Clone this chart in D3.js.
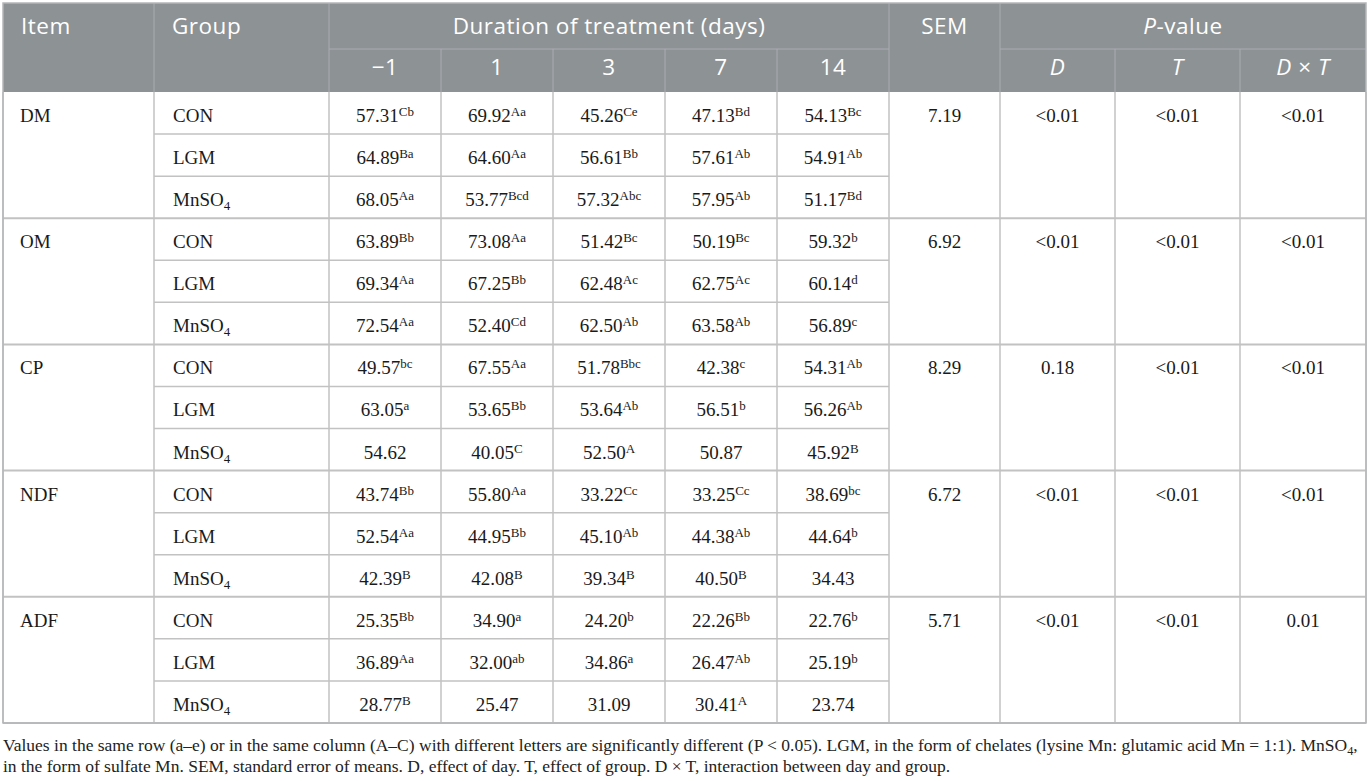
<!DOCTYPE html>
<html>
<head>
<meta charset="utf-8">
<script src="https://cdn.jsdelivr.net/npm/d3@7"></script>
<style>
  body { margin: 0; background: #fff; }
  svg { display: block; }
</style>
</head>
<body>
<svg id="tbl" width="1372" height="781"></svg>
<script>
// table content
var items = ["DM", "OM", "CP", "NDF", "ADF"]
var groups = ["CON", "LGM", "MnSO4"]
var days = ["\u22121", "1", "3", "7", "14"]

var means = [
   ["57.31", "69.92", "45.26", "47.13", "54.13"],
   ["64.89", "64.60", "56.61", "57.61", "54.91"],
   ["68.05", "53.77", "57.32", "57.95", "51.17"],
   ["63.89", "73.08", "51.42", "50.19", "59.32"],
   ["69.34", "67.25", "62.48", "62.75", "60.14"],
   ["72.54", "52.40", "62.50", "63.58", "56.89"],
   ["49.57", "67.55", "51.78", "42.38", "54.31"],
   ["63.05", "53.65", "53.64", "56.51", "56.26"],
   ["54.62", "40.05", "52.50", "50.87", "45.92"],
   ["43.74", "55.80", "33.22", "33.25", "38.69"],
   ["52.54", "44.95", "45.10", "44.38", "44.64"],
   ["42.39", "42.08", "39.34", "40.50", "34.43"],
   ["25.35", "34.90", "24.20", "22.26", "22.76"],
   ["36.89", "32.00", "34.86", "26.47", "25.19"],
   ["28.77", "25.47", "31.09", "30.41", "23.74"]
]
var letters = [
   ["Cb", "Aa", "Ce", "Bd", "Bc"],
   ["Ba", "Aa", "Bb", "Ab", "Ab"],
   ["Aa", "Bcd", "Abc", "Ab", "Bd"],
   ["Bb", "Aa", "Bc", "Bc", "b"],
   ["Aa", "Bb", "Ac", "Ac", "d"],
   ["Aa", "Cd", "Ab", "Ab", "c"],
   ["bc", "Aa", "Bbc", "c", "Ab"],
   ["a", "Bb", "Ab", "b", "Ab"],
   ["", "C", "A", "", "B"],
   ["Bb", "Aa", "Cc", "Cc", "bc"],
   ["Aa", "Bb", "Ab", "Ab", "b"],
   ["B", "B", "B", "B", ""],
   ["Bb", "a", "b", "Bb", "b"],
   ["Aa", "ab", "a", "Ab", "b"],
   ["B", "", "", "A", ""]
]
var sem = ["7.19", "6.92", "8.29", "6.72", "5.71"]
var pDay = ["<0.01", "<0.01", "0.18", "<0.01", "<0.01"]
var pGroup = ["<0.01", "<0.01", "<0.01", "<0.01", "<0.01"]
var pInter = ["<0.01", "<0.01", "<0.01", "<0.01", "0.01"]

var footnote1 = "Values in the same row (a\u2013e) or in the same column (A\u2013C) with different letters are significantly different (P < 0.05). LGM, in the form of chelates (lysine Mn: glutamic acid Mn = 1:1). MnSO"
var footnote2 = "in the form of sulfate Mn. SEM, standard error of means. D, effect of day. T, effect of group. D \u00d7 T, interaction between day and group."

// layout (window.top is read-only, hence the prefixed names)
var tLeft = 3, tRight = 1366, tTop = 3
var headMid = 49, headBottom = 92, tBottom = 723
var itemX = 3, groupX = 154, dayX0 = 329, dayX1 = 889, semX1 = 1000, pX1 = 1115, pX2 = 1240
var headFill = "#8d9295", gridColor = "#c2c2c2", headLine = "#a9adb0"
var serif = "'Liberation Serif', 'DejaVu Serif', serif"
var sans = "'Open Sans', 'Noto Sans', sans-serif"

var svg = d3.select("#tbl")

var rows = d3.range(items.length * groups.length)
var yRow = d3.scaleBand().domain(rows).range([headBottom, tBottom])
var xDay = d3.scaleBand().domain(days).range([dayX0, dayX1])

// header background
svg.append("rect")
   .attr("x", tLeft).attr("y", tTop)
   .attr("width", tRight - tLeft).attr("height", headBottom - tTop)
   .attr("fill", headFill)

// header grid
var headLines = [
   [groupX, tTop, groupX, headBottom],
   [dayX0, tTop, dayX0, headBottom],
   [dayX1, tTop, dayX1, headBottom],
   [semX1, tTop, semX1, headBottom],
   [dayX0, headMid, dayX1, headMid],
   [semX1, headMid, tRight, headMid],
   [pX1, headMid, pX1, headBottom],
   [pX2, headMid, pX2, headBottom]
]
days.slice(1).forEach(function(d) {
   headLines.push([xDay(d), headMid, xDay(d), headBottom])
})
svg.append("g").selectAll("line")
   .data(headLines)
   .join("line")
   .attr("x1", d => d[0]).attr("y1", d => d[1])
   .attr("x2", d => d[2]).attr("y2", d => d[3])
   .attr("stroke", headLine).attr("stroke-width", 1)

// header text
var head = svg.append("g")
   .attr("fill", "#fff")
   .style("font-family", sans)
   .style("font-size", "22.5px")
   .style("letter-spacing", "0.5px")
var yH1 = 34
var yH2 = 75
head.append("text").attr("x", itemX + 18).attr("y", yH1).text("Item")
head.append("text").attr("x", groupX + 18).attr("y", yH1).text("Group")
head.append("text").attr("x", (dayX0 + dayX1) / 2).attr("y", yH1)
   .attr("text-anchor", "middle").text("Duration of treatment (days)")
head.append("text").attr("x", (dayX1 + semX1) / 2).attr("y", yH1)
   .attr("text-anchor", "middle").text("SEM")
var pv = head.append("text").attr("x", (semX1 + tRight) / 2).attr("y", yH1)
   .attr("text-anchor", "middle")
pv.append("tspan").style("font-style", "italic").text("P")
pv.append("tspan").text("-value")
head.selectAll(".day")
   .data(days)
   .join("text")
   .attr("class", "day")
   .attr("x", d => xDay(d) + xDay.bandwidth() / 2)
   .attr("y", yH2)
   .attr("text-anchor", "middle")
   .text(d => d)
var pCols = [[semX1, pX1, ["D"]], [pX1, pX2, ["T"]], [pX2, tRight, ["D", " \u00d7 ", "T"]]]
pCols.forEach(function(c) {
   var t = head.append("text").attr("x", (c[0] + c[1]) / 2).attr("y", yH2)
      .attr("text-anchor", "middle")
   c[2].forEach(function(s) {
      t.append("tspan").style("font-style", s.trim() == "\u00d7" ? "normal" : "italic").text(s)
   })
})

// body grid
var grid = svg.append("g").attr("stroke", gridColor).attr("stroke-width", 1.5)
rows.forEach(function(r) {
   if (r == 0) return
   var groupStart = r % groups.length == 0
   grid.append("line")
      .attr("x1", groupStart ? tLeft : groupX).attr("x2", groupStart ? tRight : dayX1)
      .attr("y1", yRow(r)).attr("y2", yRow(r))
      .attr("stroke-width", groupStart ? 2 : 1.5)
})
var vx = [tLeft, groupX, dayX0, dayX1, semX1, pX1, pX2, tRight].concat(days.slice(1).map(d => xDay(d)))
grid.selectAll("line.v")
   .data(vx)
   .join("line")
   .attr("class", "v")
   .attr("x1", d => d).attr("x2", d => d)
   .attr("y1", headBottom).attr("y2", tBottom)
grid.append("line")
   .attr("x1", tLeft).attr("x2", tRight)
   .attr("y1", tBottom).attr("y2", tBottom)
   .attr("stroke-width", 2)
// outer frame
svg.append("rect")
   .attr("x", tLeft).attr("y", tTop)
   .attr("width", tRight - tLeft).attr("height", tBottom - tTop)
   .attr("fill", "none").attr("stroke", "#b4b7b9").attr("stroke-width", 1.5)

// body text
var body = svg.append("g")
   .attr("fill", "#1a1a1a")
   .style("font-family", serif)
   .style("font-size", "19px")
var baseY = r => yRow(r) + 30

function chem(sel, s) {
   if (s == "MnSO4") {
      sel.append("tspan").text("MnSO")
      sel.append("tspan").attr("dy", 4).style("font-size", "13px").text("4")
   } else {
      sel.text(s)
   }
}

items.forEach(function(item, i) {
   var r0 = i * groups.length
   body.append("text").attr("x", itemX + 17).attr("y", baseY(r0)).text(item)
   body.append("text").attr("x", (dayX1 + semX1) / 2).attr("y", baseY(r0)).attr("text-anchor", "middle").text(sem[i])
   body.append("text").attr("x", (semX1 + pX1) / 2).attr("y", baseY(r0)).attr("text-anchor", "middle").text(pDay[i])
   body.append("text").attr("x", (pX1 + pX2) / 2).attr("y", baseY(r0)).attr("text-anchor", "middle").text(pGroup[i])
   body.append("text").attr("x", (pX2 + tRight) / 2).attr("y", baseY(r0)).attr("text-anchor", "middle").text(pInter[i])
   groups.forEach(function(g, j) {
      body.append("text").attr("x", groupX + 19).attr("y", baseY(r0 + j)).call(chem, g)
   })
})

rows.forEach(function(r) {
   body.selectAll(null)
      .data(days)
      .join("text")
      .attr("x", d => xDay(d) + xDay.bandwidth() / 2)
      .attr("y", baseY(r))
      .attr("text-anchor", "middle")
      .each(function(d, k) {
         var t = d3.select(this)
         t.append("tspan").text(means[r][k])
         if (letters[r][k]) {
            t.append("tspan").attr("dy", -6).style("font-size", "13px").text(letters[r][k])
         }
      })
})

// footnote, sized so the first line fills the table width
var foot = svg.append("g")
   .attr("fill", "#222")
   .style("font-family", serif)
   .style("font-size", "18px")
var f1 = foot.append("text").attr("x", tLeft).attr("y", 751)
f1.append("tspan").text(footnote1)
f1.append("tspan").attr("dy", 4).style("font-size", "0.7em").text("4")
f1.append("tspan").attr("dy", -4).text(",")
var f2 = foot.append("text").attr("x", tLeft).attr("y", 772).text(footnote2)
var w1 = f1.node().getComputedTextLength()
foot.style("font-size", (18 * (tRight - tLeft - 8) / w1).toFixed(2) + "px")
</script>
</body>
</html>
